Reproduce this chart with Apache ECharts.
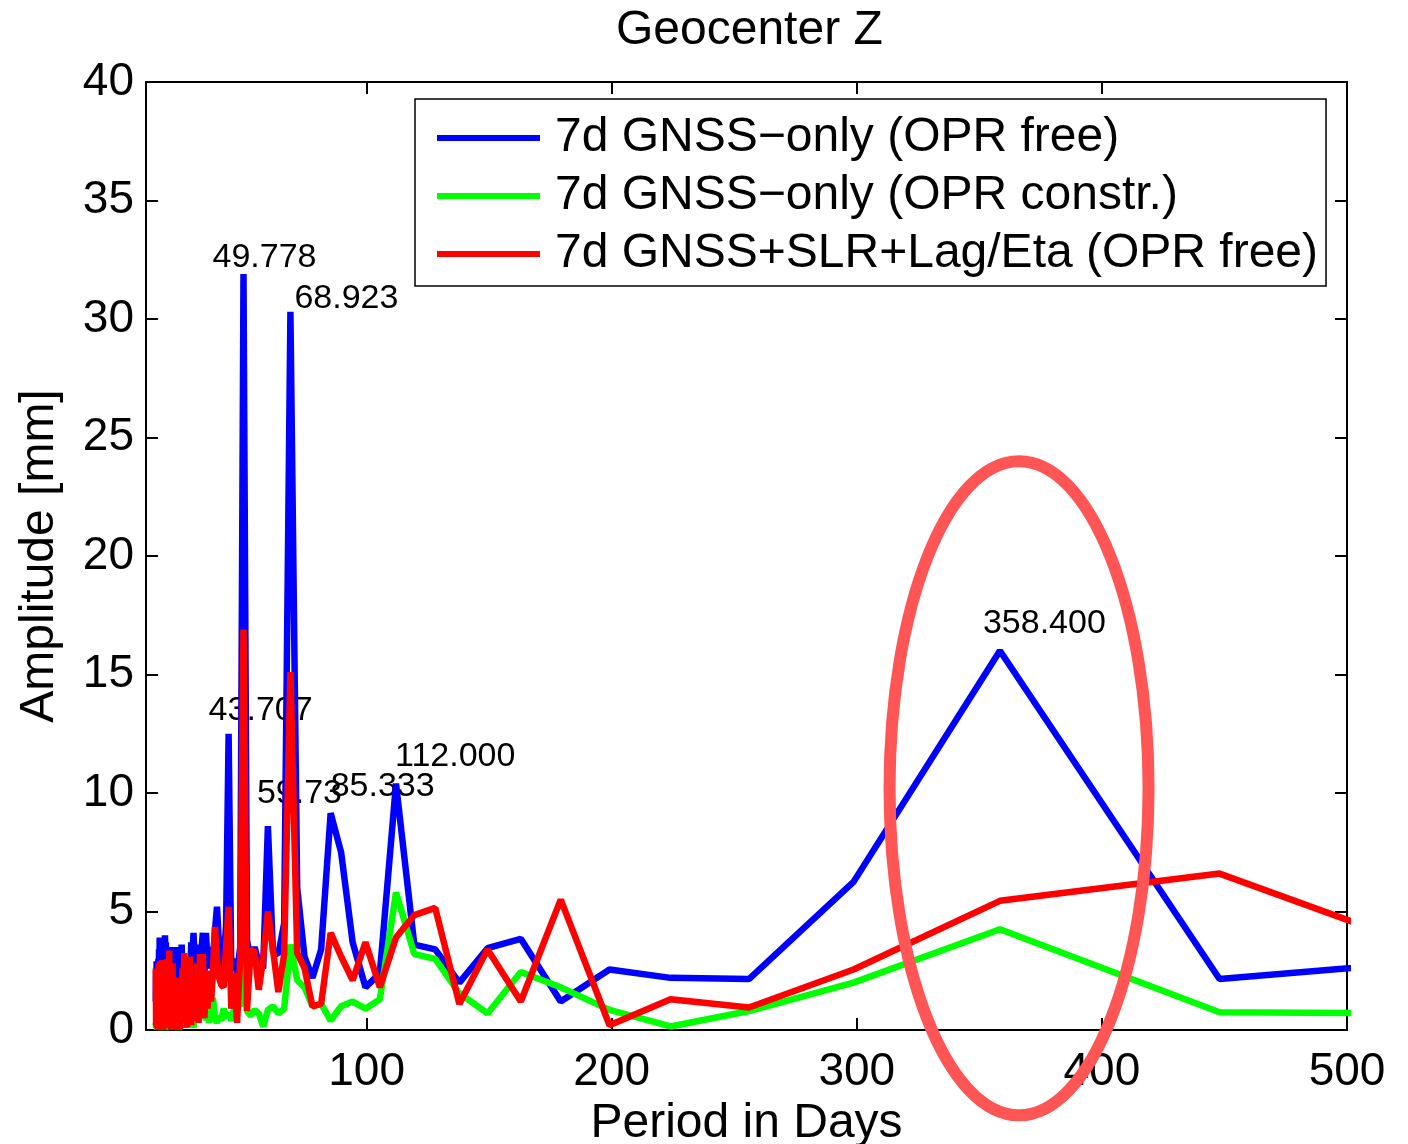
<!DOCTYPE html>
<html>
<head>
<meta charset="utf-8">
<script src="https://cdn.jsdelivr.net/npm/echarts@6/dist/echarts.min.js"></script>
<style>html,body{margin:0;padding:0;background:#fff;overflow:hidden}#c{width:1408px;height:1144px}</style>
</head>
<body>
<div id="c"></div>
<script>
// Periods (days) of the spectrum
const periods = [
14.000, 14.110, 14.222, 14.336, 14.452, 14.569, 14.689, 14.810, 14.933, 15.059,
15.186, 15.316, 15.448, 15.583, 15.719, 15.858, 16.000, 16.144, 16.291, 16.440,
16.593, 16.748, 16.906, 17.067, 17.231, 17.398, 17.569, 17.743, 17.920, 18.101,
18.286, 18.474, 18.667, 18.863, 19.064, 19.269, 19.478, 19.692, 19.911, 20.135,
20.364, 20.598, 20.837, 21.082, 21.333, 21.590, 21.854, 22.123, 22.400, 22.684,
22.974, 23.273, 23.579, 23.893, 24.216, 24.548, 24.889, 25.239, 25.600, 25.971,
26.353, 26.746, 27.152, 27.569, 28.000, 28.444, 28.903, 29.377, 29.867, 30.373,
30.897, 31.439, 32.000, 32.582, 33.185, 33.811, 34.462, 35.137, 35.840, 36.571,
37.333, 38.128, 38.957, 39.822, 40.727, 41.674, 42.667, 43.707, 44.800, 45.949,
47.158, 48.432, 49.778, 51.200, 52.706, 54.303, 56.000, 57.806, 59.733, 61.793,
64.000, 66.370, 68.923, 71.680, 74.667, 77.913, 81.455, 85.333, 89.600, 94.316,
99.556, 105.412, 112.000, 119.467, 128.000, 137.846, 149.333, 162.909, 179.200, 199.111,
224.000, 256.000, 298.667, 358.400, 448.000, 597.333
];
// 7d GNSS-only (OPR free)
const gnssFree = [
1.2, 2.5, 1.8, 2.9, 1.5, 2.2, 0.9, 2.6, 1.7, 3.0,
2.1, 3.4, 2.4, 3.9, 2.8, 3.6, 2.2, 3.1, 1.6, 2.7,
1.9, 3.3, 2.0, 3.6, 2.3, 3.8, 2.9, 4.0, 3.1, 3.7,
2.4, 3.2, 1.4, 2.6, 1.1, 2.2, 0.8, 2.9, 1.9, 3.3,
2.5, 3.5, 2.0, 3.4, 1.6, 3.0, 2.1, 3.3, 2.6, 3.5,
1.9, 2.8, 1.3, 2.7, 2.0, 3.6, 2.5, 3.2, 1.2, 2.4,
0.7, 1.9, 1.0, 2.8, 1.8, 3.7, 2.9, 4.1, 3.0, 3.6,
1.5, 2.6, 1.7, 3.3, 4.1, 2.3, 4.1, 2.8, 3.5, 2.6,
3.0, 4.2, 5.2, 3.5, 1.9, 3.0, 4.4, 12.5, 2.5, 3.0,
2.4, 3.5, 31.9, 3.8, 2.9, 3.5, 2.8, 2.6, 8.6, 3.3,
3.2, 4.5, 30.3, 6.0, 3.1, 2.2, 3.4, 9.15, 7.5, 3.7,
1.8, 2.4, 10.4, 3.6, 3.4, 2.0, 3.45, 3.85, 1.2, 2.55,
2.2, 2.15, 6.25, 16.0, 2.15, 3.45
];
// 7d GNSS-only (OPR constr.)
const gnssConstr = [
0.3, 0.1, 0.5, 0.2, 0.6, 0.0, 0.4, 0.2, 0.1, 0.5,
0.3, 0.7, 0.2, 0.4, 0.1, 0.3, 0.0, 0.5, 0.2, 0.6,
0.3, 0.1, 0.4, 0.8, 0.2, 0.5, 0.1, 0.3, 0.6, 0.2,
0.0, 0.4, 0.3, 0.7, 0.1, 0.5, 0.2, 0.4, 0.6, 0.1,
0.3, 0.8, 0.2, 0.5, 0.4, 0.1, 0.6, 0.3, 0.9, 0.2,
0.5, 0.0, 0.4, 0.7, 0.3, 0.1, 0.6, 0.2, 0.8, 0.4,
0.1, 0.5, 0.3, 0.9, 0.2, 0.6, 0.4, 0.1, 0.7, 0.3,
1.0, 0.4, 0.6, 1.3, 0.6, 1.1, 0.4, 0.8, 0.3, 1.2,
1.35, 0.5, 0.3, 0.6, 0.4, 0.9, 0.5, 0.7, 0.4, 0.9,
1.1, 1.0, 4.5, 0.8, 0.6, 0.85, 0.7, 0.15, 0.85, 1.0,
0.7, 0.9, 3.6, 2.1, 1.8, 1.0, 1.1, 0.4, 1.0, 1.2,
0.9, 1.3, 5.8, 3.2, 3.0, 1.55, 0.7, 2.45, 1.8, 0.85,
0.15, 0.8, 2.0, 4.25, 0.75, 0.66
];
// 7d GNSS+SLR+Lag/Eta (OPR free)
const combined = [
2.6, 0.2, 1.9, 0.1, 2.4, 0.6, 1.5, 0.0, 2.2, 0.4,
2.8, 1.1, 2.0, 0.3, 2.9, 0.5, 1.7, 0.1, 2.5, 0.8,
2.95, 0.4, 1.8, 0.0, 2.3, 1.0, 2.7, 0.2, 1.4, 0.6,
2.6, 0.1, 3.0, 0.7, 2.1, 0.3, 3.35, 0.9, 2.4, 0.0,
1.6, 0.5, 2.8, 0.2, 2.1, 0.0, 1.2, 0.4, 2.0, 0.1,
1.7, 0.6, 2.2, 0.0, 1.4, 0.3, 2.6, 0.8, 3.25, 0.5,
2.5, 0.1, 1.9, 0.7, 3.1, 0.2, 2.3, 0.4, 1.5, 0.9,
2.8, 0.3, 3.2, 1.5, 3.2, 0.5, 1.8, 0.9, 2.5, 1.2,
2.5, 4.35, 3.0, 2.2, 1.9, 1.8, 3.5, 5.2, 0.9, 2.4,
0.3, 3.0, 16.9, 0.8, 3.4, 3.3, 1.7, 3.0, 5.0, 3.4,
1.6, 3.2, 15.1, 3.25, 2.6, 1.0, 1.1, 4.1, 3.1, 2.1,
3.7, 1.8, 3.9, 4.85, 5.15, 1.1, 3.4, 1.2, 5.5, 0.2,
1.3, 0.95, 2.55, 5.45, 6.6, 1.0
];
const seriesNames = ['7d GNSS\u2212only (OPR free)', '7d GNSS\u2212only (OPR constr.)', '7d GNSS+SLR+Lag/Eta (OPR free)'];
// Annotated peaks (periods of blue series) and their text
const peakPeriods = [49.778, 68.923, 43.707, 59.733, 85.333, 112.000, 358.400];
const peakTexts = ['49.778', '68.923', '43.707', '59.73', '85.333', '112.000', '358.400'];
const xTicks = [100, 200, 300, 400, 500];
const titleText = 'Geocenter Z';
const xName = 'Period in Days';
const yName = 'Amplitude [mm]';
// Highlighted region (data coordinates of ellipse centre)
const highlightCenter = [366.2, 10.2];

// ---- styles ----
const FONT = '"Liberation Sans", Arial, Helvetica, sans-serif';
const labelOffsets = [[-31, -16], [4, -13], [-20, -23], [-11, -33], [0, -27], [-1, -27], [-17, -27]];
const colors = ['#0000ff', '#00ff00', '#ff0000'];
const LW = 6.5;

function pairs(ys) { return periods.map((p, i) => [p, ys[i]]); }

const peakData = peakPeriods.map((p, j) => {
  const idx = periods.indexOf(p);
  return {
    value: [p, gnssFree[idx]],
    name: peakTexts[j],
    label: { offset: labelOffsets[j] }
  };
});

const chart = echarts.init(document.getElementById('c'), null, { renderer: 'canvas', width: 1408, height: 1144 });

const axisLineStyle = { color: '#000', width: 2 };
const option = {
  animation: false,
  backgroundColor: '#fff',
  title: {
    text: titleText, left: 611, top: 2,
    textStyle: { fontFamily: FONT, fontSize: 48, fontWeight: 'normal', color: '#000' }
  },
  grid: { left: 146, right: 61, top: 82, bottom: 114, containLabel: false, outerBoundsMode: 'none' },
  legend: {
    data: seriesNames,
    orient: 'vertical', left: 415, top: 99,
    icon: 'rect', itemWidth: 103, itemHeight: 6, itemGap: 10,
    padding: [15, 8, 8, 22],
    borderColor: '#000', borderWidth: 1.5, backgroundColor: '#fff',
    textStyle: { fontFamily: FONT, fontSize: 48, lineHeight: 48, color: '#000', padding: [0, 0, 0, 10] },
    z: 10
  },
  xAxis: [
    {
      type: 'value', min: 10, max: 500, position: 'bottom',
      name: xName, nameLocation: 'middle', nameGap: 64,
      nameTextStyle: { fontFamily: FONT, fontSize: 48, color: '#000' },
      axisLine: { show: true, onZero: false, lineStyle: axisLineStyle },
      axisTick: { show: true, inside: true, length: 12, customValues: xTicks, lineStyle: { color: '#000', width: 2 } },
      axisLabel: { show: true, customValues: xTicks, margin: 19, fontFamily: FONT, fontSize: 46, color: '#000' },
      splitLine: { show: false }
    },
    {
      type: 'value', min: 10, max: 500, position: 'top',
      axisLine: { show: true, onZero: false, lineStyle: axisLineStyle },
      axisTick: { show: true, inside: true, length: 12, customValues: xTicks, lineStyle: { color: '#000', width: 2 } },
      axisLabel: { show: false },
      splitLine: { show: false }
    }
  ],
  yAxis: [
    {
      type: 'value', min: 0, max: 40, interval: 5, position: 'left',
      name: yName, nameLocation: 'middle', nameGap: 82, nameRotate: 90,
      nameTextStyle: { fontFamily: FONT, fontSize: 48, color: '#000' },
      axisLine: { show: true, onZero: false, lineStyle: axisLineStyle },
      axisTick: { show: true, inside: true, length: 12, lineStyle: { color: '#000', width: 2 } },
      axisLabel: { show: true, margin: 12, padding: [12, 0, 0, 0], fontFamily: FONT, fontSize: 46, color: '#000' },
      splitLine: { show: false }
    },
    {
      type: 'value', min: 0, max: 40, interval: 5, position: 'right',
      axisLine: { show: true, onZero: false, lineStyle: axisLineStyle },
      axisTick: { show: true, inside: true, length: 12, lineStyle: { color: '#000', width: 2 } },
      axisLabel: { show: false },
      splitLine: { show: false }
    }
  ],
  series: [
    {
      name: 'peaks', type: 'scatter', xAxisIndex: 0, yAxisIndex: 0,
      symbolSize: 0, silent: true, z: 1,
      data: peakData,
      label: {
        show: true, position: 'right', distance: 0,
        formatter: p => p.name,
        fontFamily: FONT, fontSize: 34, color: '#000', opacity: 1, textBorderWidth: 0
      }
    },
    {
      name: seriesNames[0], type: 'line', data: pairs(gnssFree), showSymbol: false, z: 3,
      lineStyle: { color: colors[0], width: LW }, itemStyle: { color: colors[0] }, clip: true
    },
    {
      name: seriesNames[1], type: 'line', data: pairs(gnssConstr), showSymbol: false, z: 4,
      lineStyle: { color: colors[1], width: LW }, itemStyle: { color: colors[1] }, clip: true
    },
    {
      name: seriesNames[2], type: 'line', data: pairs(combined), showSymbol: false, z: 5,
      lineStyle: { color: colors[2], width: LW }, itemStyle: { color: colors[2] }, clip: true
    }
  ]
};
chart.setOption(option);

const c = chart.convertToPixel({ gridIndex: 0 }, highlightCenter);
chart.setOption({
  graphic: [
    {
      type: 'ellipse', z: 20,
      shape: { cx: c[0], cy: c[1], rx: 129.5, ry: 327 },
      style: { fill: 'none', stroke: '#ff5555', lineWidth: 12 }
    }
  ]
});
</script>
</body>
</html>
